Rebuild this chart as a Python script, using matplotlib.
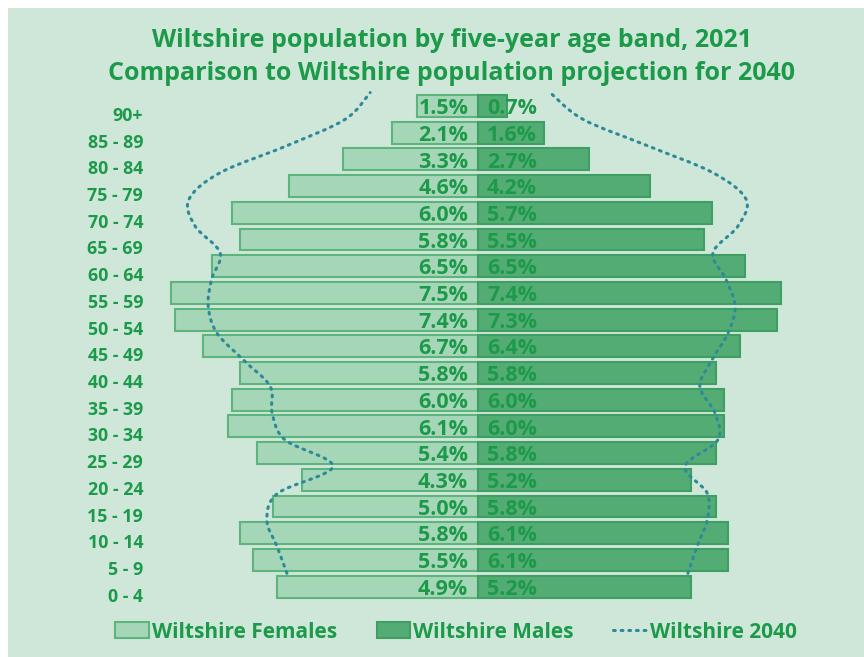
import matplotlib
matplotlib.use("Agg")
import matplotlib.pyplot as plt
import numpy as np
from matplotlib.path import Path
from matplotlib.patches import PathPatch, Patch
from matplotlib.lines import Line2D

plt.rcParams['font.family'] = ['Open Sans', 'DejaVu Sans']

# ---- data (bottom to top) ----
age_bands = ["0 - 4", "5 - 9", "10 - 14", "15 - 19", "20 - 24", "25 - 29", "30 - 34",
             "35 - 39", "40 - 44", "45 - 49", "50 - 54", "55 - 59", "60 - 64",
             "65 - 69", "70 - 74", "75 - 79", "80 - 84", "85 - 89", "90+"]
females_2021 = [4.9, 5.5, 5.8, 5.0, 4.3, 5.4, 6.1, 6.0, 5.8, 6.7, 7.4, 7.5, 6.5,
                5.8, 6.0, 4.6, 3.3, 2.1, 1.5]
males_2021 = [5.2, 6.1, 6.1, 5.8, 5.2, 5.8, 6.0, 6.0, 5.8, 6.4, 7.3, 7.4, 6.5,
              5.5, 5.7, 4.2, 2.7, 1.6, 0.7]
females_2040 = [4.66, 4.9, 5.15, 4.88, 3.54, 4.71, 5.02, 5.07, 5.73, 6.37, 6.58, 6.5,
                6.29, 6.9, 7.05, 6.29, 4.68, 3.24, 2.63]
males_2040 = [5.12, 5.34, 5.59, 5.59, 5.05, 5.85, 5.78, 5.41, 5.71, 6.1, 6.27, 6.05,
              5.73, 6.34, 6.54, 5.73, 4.15, 2.56, 1.76]

title = "Wiltshire population by five-year age band, 2021\nComparison to Wiltshire population projection for 2040"
legend_labels = ["Wiltshire Females", "Wiltshire Males", "Wiltshire 2040"]

# ---- styles ----
BG = "#cee7d9"
F_FILL = "#a6d6b8"
F_EDGE = "#5cb67c"
M_FILL = "#54ac75"
M_EDGE = "#3f9e62"
TXT = "#1c9a4a"
DOT = "#2f8a98"
DOTSTYLE = (0, (0.6, 1.9))

W, H = 864, 657
fig = plt.figure(figsize=(W / 100, H / 100), dpi=100)
fig.patch.set_facecolor("white")
fig.patches.append(plt.Rectangle((8 / W, 0), 1 - 8 / W, 1 - 8 / H, transform=fig.transFigure,
                                 facecolor=BG, edgecolor="none", zorder=-10))

ax_left, ax_right = 150, 806
ax_top, ax_bottom = 92.6, 600.0
ax = fig.add_axes([ax_left / W, 1 - ax_bottom / H, (ax_right - ax_left) / W, (ax_bottom - ax_top) / H])
ax.set_facecolor("none")
ax.set_xlim(-8, 8)
ax.set_ylim(-0.5, 18.5)

y = np.arange(len(age_bands))
ax.barh(y, [-v for v in females_2021], height=0.82, color=F_FILL, edgecolor=F_EDGE, linewidth=1.5, zorder=2)
ax.barh(y, males_2021, height=0.82, color=M_FILL, edgecolor=M_EDGE, linewidth=1.5, zorder=2)

for yi, fv, mv in zip(y, females_2021, males_2021):
    ax.text(-0.24, yi - 0.1, f"{fv:.1f}%", ha="right", va="center", color=TXT,
            fontsize=15.5, fontweight="bold", zorder=5)
    ax.text(0.22, yi - 0.1, f"{mv:.1f}%", ha="left", va="center", color=TXT,
            fontsize=15.5, fontweight="bold", zorder=5)


def smooth_path(xs, ys):
    pts = np.column_stack([xs, ys])
    n = len(pts)
    verts = [pts[0]]
    codes = [Path.MOVETO]
    for i in range(n - 1):
        p0 = pts[i - 1] if i > 0 else pts[i]
        p1 = pts[i]
        p2 = pts[i + 1]
        p3 = pts[i + 2] if i + 2 < n else pts[i + 1]
        c1 = p1 + (p2 - p0) / 6.0
        c2 = p2 - (p3 - p1) / 6.0
        verts += [c1, c2, p2]
        codes += [Path.CURVE4] * 3
    return Path(verts, codes)


line_y = y + 0.5
for vals, sign in ((females_2040, -1), (males_2040, 1)):
    path = smooth_path([sign * v for v in vals], line_y)
    pp = PathPatch(path, facecolor="none", edgecolor=DOT, linewidth=2.2,
                   linestyle=DOTSTYLE, capstyle="round", zorder=4, clip_on=False)
    ax.add_patch(pp)

ax.set_yticks(y - 0.3)
ax.set_yticklabels(age_bands, fontsize=12.8, fontweight="bold", color=TXT)
ax.tick_params(axis="y", length=0, pad=5)
ax.set_xticks([])
for s in ax.spines.values():
    s.set_visible(False)

fig.text(452 / W, 1 - 57 / H, title, ha="center", va="center", color=TXT,
         fontsize=18, fontweight="bold", linespacing=1.42)

handles = [Patch(facecolor=F_FILL, edgecolor=F_EDGE, linewidth=1.5),
           Patch(facecolor=M_FILL, edgecolor=M_EDGE, linewidth=1.5),
           Line2D([0], [0], color=DOT, linewidth=2.2, linestyle=DOTSTYLE,
                  dash_capstyle="round")]
leg = fig.legend(handles, legend_labels, loc="center", bbox_to_anchor=(456 / W, 1 - 632 / H),
                 ncol=3, frameon=False, fontsize=15, handlelength=1.6, handleheight=0.8,
                 handletextpad=0.15, columnspacing=1.9, borderaxespad=0)
for t in leg.get_texts():
    t.set_color(TXT)
    t.set_fontweight("bold")

fig.savefig("out.png", dpi=100, facecolor=fig.get_facecolor())
